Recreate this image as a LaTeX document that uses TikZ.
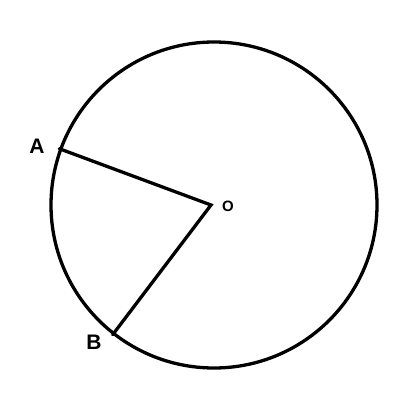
\documentclass[tikz,border=0pt]{standalone}
\usepackage{fontspec}
\setmainfont{Liberation Sans}
\begin{document}
\begin{tikzpicture}[x=1pt,y=-1pt,
  stroke/.style={line width=3.3pt, line cap=round, line join=miter},
  lbl/.style={font=\bfseries\fontsize{21}{21}\selectfont, inner sep=0pt}]
\useasboundingbox[fill=white] (0,0) rectangle (401,406);
\node[draw, circle, line width=3.3pt, minimum size=326pt, inner sep=0pt] (circ) at (214,205) {};
\coordinate (O) at (211,205);
\coordinate (A) at (circ.160.9);
\coordinate (B) at (circ.232.6);
\draw[stroke] (A) -- (O) -- (B);
\node[lbl] (la) at (37,146) {A};
\node[lbl] (lb) at (94,342) {B};
\node[lbl, font=\bfseries\fontsize{15}{15}\selectfont] (lo) at (228,206) {O};
\end{tikzpicture}
\end{document}
